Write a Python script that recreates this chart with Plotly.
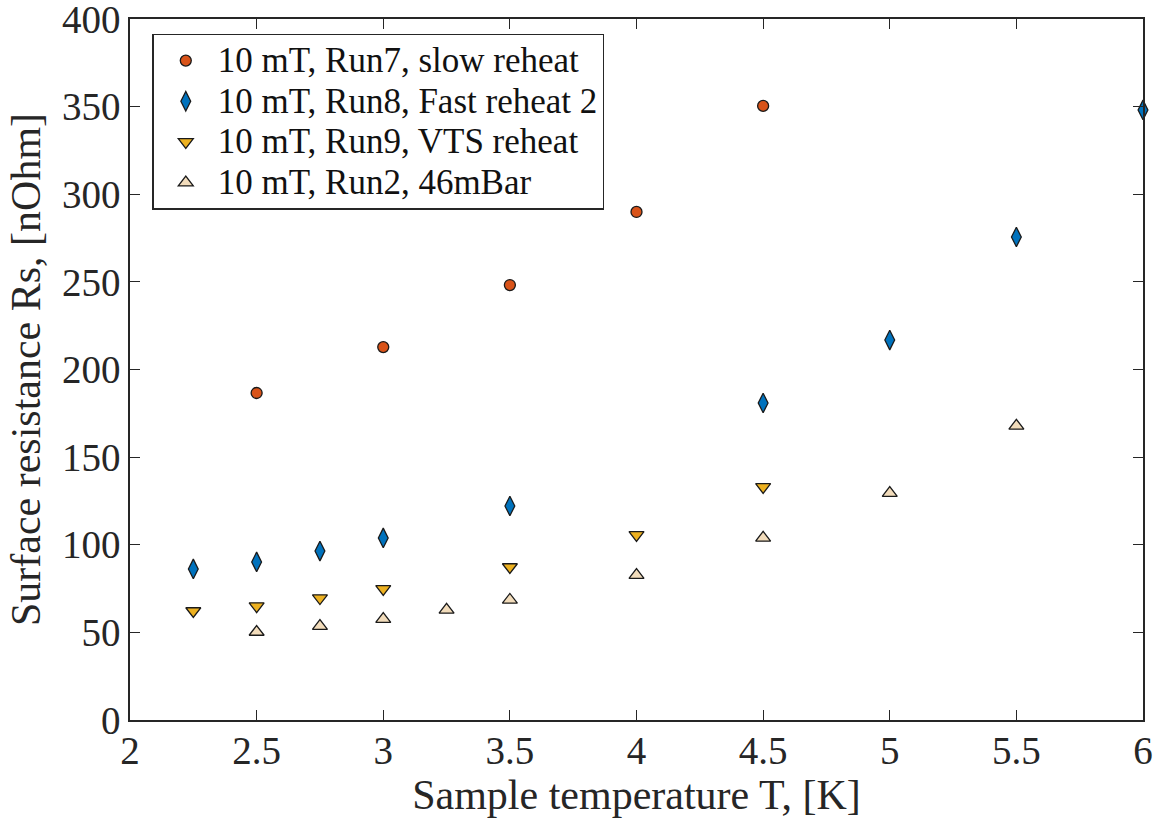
import plotly.graph_objects as go

# Data
run7_T = [2.5, 3.0, 3.5, 4.0, 4.5]
run7_Rs = [186.6, 212.8, 248.2, 289.9, 350.4]

run8_T = [2.25, 2.5, 2.75, 3.0, 3.5, 4.5, 5.0, 5.5, 6.0]
run8_Rs = [86.2, 90.2, 96.4, 103.9, 122.1, 180.9, 216.8, 275.6, 348.1]

run9_T = [2.25, 2.5, 2.75, 3.0, 3.5, 4.0, 4.5]
run9_Rs = [62.2, 65.0, 69.6, 74.8, 87.3, 105.6, 133.0]

run2_T = [2.5, 2.75, 3.0, 3.25, 3.5, 4.0, 4.5, 5.0, 5.5]
run2_Rs = [50.2, 53.6, 57.6, 62.8, 68.5, 82.7, 103.9, 129.5, 167.8]

names = ["10 mT, Run7, slow reheat", "10 mT, Run8, Fast reheat 2",
         "10 mT, Run9, VTS reheat", "10 mT, Run2, 46mBar"]
colors = ["#D95319", "#0072BD", "#EDB120", "#F2DCBB"]
symbols = ["circle", "diamond-tall", "triangle-down", "triangle-up"]
sizes = [11, 14, 13, 13]

x_ticks = [2, 2.5, 3, 3.5, 4, 4.5, 5, 5.5, 6]
x_ticktext = ["2", "2.5", "3", "3.5", "4", "4.5", "5", "5.5", "6"]
y_ticks = [0, 50, 100, 150, 200, 250, 300, 350, 400]

xs = [run7_T, run8_T, run9_T, run2_T]
ys = [run7_Rs, run8_Rs, run9_Rs, run2_Rs]

FONT = "Liberation Serif, Times New Roman, serif"
AX = "#262626"

fig = go.Figure()
for x, y, n, c, s, sz in zip(xs, ys, names, colors, symbols, sizes):
    fig.add_trace(go.Scatter(
        x=x, y=y, mode="markers", cliponaxis=False,
        name='<span style="font-size:35px">' + n + '</span>',
        marker=dict(symbol=s, size=sz, color=c, line=dict(color="#1a1a1a", width=1.3)),
    ))

axis_common = dict(
    showgrid=False, zeroline=False, showline=True, linecolor=AX, linewidth=1.5,
    mirror="ticks", ticks="inside", ticklen=10, tickwidth=1.3, tickcolor=AX,
    tickfont=dict(family=FONT, size=39, color=AX), automargin=False,
    ticklabeloverflow="allow",
)

fig.update_layout(
    width=1155, height=826,
    paper_bgcolor="white", plot_bgcolor="white",
    margin=dict(l=130, r=12, t=19, b=106),
    font=dict(family=FONT, color=AX),
    showlegend=True,
    legend=dict(
        x=0.022, y=0.979, xanchor="left", yanchor="top",
        bgcolor="white", bordercolor=AX, borderwidth=1.5,
        font=dict(family=FONT, size=29, color="#111111"),
        itemsizing="trace", itemwidth=54, tracegroupgap=0,
    ),
    xaxis=dict(range=[2, 6], tickmode="array", tickvals=x_ticks, ticktext=x_ticktext,
               ticklabelstandoff=-5,
               title=dict(text="Sample temperature T, [K]", font=dict(family=FONT, size=42, color=AX), standoff=2),
               **axis_common),
    yaxis=dict(range=[0, 400], tickmode="array", tickvals=y_ticks,
               title=dict(text="Surface resistance Rs, [nOhm]", font=dict(family=FONT, size=42, color=AX), standoff=8),
               **axis_common),
)

# remove the default 8px page margin so the figure fills the window exactly
fig.write_html("out.html", config={"displayModeBar": False},
               post_script="document.body.style.margin='0';document.body.style.overflow='hidden';")
